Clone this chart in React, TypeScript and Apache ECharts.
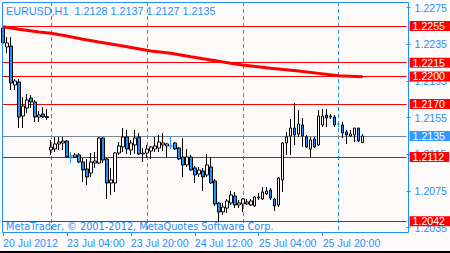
import React, { useEffect, useRef } from "react";
import * as echarts from "echarts";

// ---- categories (hourly bars, weekend skipped) ----
const days = ["20 Jul", "23 Jul", "24 Jul", "25 Jul", "26 Jul"];
const firstHour = 12;
const barCount = 102;
const categories: string[] = [];
{
  let d = 0;
  let h = firstHour;
  while (categories.length < barCount) {
    categories.push(`${days[d]} ${String(h).padStart(2, "0")}:00`);
    h++;
    if (h === 24) {
      h = 0;
      d++;
    }
  }
}
const firstLabel = "20 Jul 2012";
const xLabelIdx = [0, 16, 32, 48, 64, 80];
const dayGridIdx = [12, 36, 60, 84];

// ---- OHLC: [open, close, low, high] ----
const ohlc: number[][] = [
  [1.22528, 1.22365, 1.22354, 1.22615],
  [1.22321, 1.22365, 1.22255, 1.2243],
  [1.22332, 1.21928, 1.21852, 1.2243],
  [1.21906, 1.2195, 1.21852, 1.21972],
  [1.21939, 1.21557, 1.21437, 1.21972],
  [1.21568, 1.21677, 1.21437, 1.21775],
  [1.21655, 1.21743, 1.21601, 1.21808],
  [1.21764, 1.21721, 1.21655, 1.21797],
  [1.21721, 1.21557, 1.21503, 1.21743],
  [1.21557, 1.21579, 1.21503, 1.21623],
  [1.2159, 1.21557, 1.21546, 1.21666],
  [1.2156, 1.2155, 1.21524, 1.21644],
  [1.21197, 1.2123, 1.21143, 1.21306],
  [1.21208, 1.21263, 1.21175, 1.21339],
  [1.21263, 1.21284, 1.21197, 1.21339],
  [1.21274, 1.21295, 1.21197, 1.21339],
  [1.21295, 1.21121, 1.2111, 1.21306],
  [1.21132, 1.21132, 1.21055, 1.21175],
  [1.21121, 1.21143, 1.2111, 1.21164],
  [1.21143, 1.21066, 1.21055, 1.21164],
  [1.21066, 1.20979, 1.20848, 1.2111],
  [1.2099, 1.20903, 1.20815, 1.21099],
  [1.20946, 1.21066, 1.20903, 1.21164],
  [1.21055, 1.21077, 1.21001, 1.21175],
  [1.21055, 1.21328, 1.21044, 1.21339],
  [1.21328, 1.21088, 1.21055, 1.21339],
  [1.21099, 1.20837, 1.20663, 1.2111],
  [1.20837, 1.2087, 1.20706, 1.21001],
  [1.20837, 1.21164, 1.20739, 1.21175],
  [1.21164, 1.21241, 1.21143, 1.21284],
  [1.2123, 1.21339, 1.21175, 1.21437],
  [1.21339, 1.21208, 1.21154, 1.21415],
  [1.21197, 1.21274, 1.21143, 1.21306],
  [1.21252, 1.21328, 1.21154, 1.21415],
  [1.21339, 1.21154, 1.21143, 1.21383],
  [1.21154, 1.21164, 1.21066, 1.21219],
  [1.21164, 1.21208, 1.2111, 1.21252],
  [1.21186, 1.2123, 1.21099, 1.21241],
  [1.21208, 1.21241, 1.21175, 1.21339],
  [1.21219, 1.21284, 1.21175, 1.21361],
  [1.21252, 1.21274, 1.21186, 1.21383],
  [1.21241, 1.21263, 1.21121, 1.21274],
  [1.21241, 1.21241, 1.21208, 1.2135],
  [1.21274, 1.21208, 1.21197, 1.21284],
  [1.21219, 1.21099, 1.21088, 1.2123],
  [1.21121, 1.21034, 1.20903, 1.21328],
  [1.21034, 1.21121, 1.21012, 1.21208],
  [1.21121, 1.20979, 1.20968, 1.21143],
  [1.21001, 1.20924, 1.20837, 1.21023],
  [1.20935, 1.20979, 1.20903, 1.21012],
  [1.20968, 1.20903, 1.2075, 1.21001],
  [1.20924, 1.21034, 1.20903, 1.21154],
  [1.21012, 1.20837, 1.20826, 1.21121],
  [1.20859, 1.20608, 1.20586, 1.20881],
  [1.20619, 1.20521, 1.20412, 1.2063],
  [1.20521, 1.20575, 1.20488, 1.20619],
  [1.20564, 1.20641, 1.2051, 1.20663],
  [1.20619, 1.20706, 1.20597, 1.2075],
  [1.20695, 1.20597, 1.20564, 1.20739],
  [1.20597, 1.20619, 1.20564, 1.20652],
  [1.20608, 1.20663, 1.20521, 1.20673],
  [1.20608, 1.2063, 1.20597, 1.20663],
  [1.20597, 1.20641, 1.20586, 1.20663],
  [1.20586, 1.20684, 1.20575, 1.20695],
  [1.20673, 1.20684, 1.20652, 1.20728],
  [1.20663, 1.20739, 1.20652, 1.20793],
  [1.20717, 1.2075, 1.20706, 1.20793],
  [1.20761, 1.20673, 1.20652, 1.20783],
  [1.20663, 1.20586, 1.20532, 1.20673],
  [1.20597, 1.20892, 1.20575, 1.20903],
  [1.2087, 1.21274, 1.20739, 1.21284],
  [1.21274, 1.21339, 1.21143, 1.21394],
  [1.2135, 1.21437, 1.21143, 1.21535],
  [1.21437, 1.21361, 1.21252, 1.2171],
  [1.21372, 1.21481, 1.21339, 1.21633],
  [1.2147, 1.2135, 1.2123, 1.21546],
  [1.21339, 1.2123, 1.21219, 1.21361],
  [1.21208, 1.21306, 1.21121, 1.21339],
  [1.21317, 1.2123, 1.21219, 1.21339],
  [1.21252, 1.21568, 1.21241, 1.21633],
  [1.2147, 1.21568, 1.21448, 1.21644],
  [1.21579, 1.21546, 1.21448, 1.21644],
  [1.21557, 1.21568, 1.21535, 1.2159],
  [1.21557, 1.2147, 1.21448, 1.21579],
  [1.21481, 1.21481, 1.21448, 1.21514],
  [1.2147, 1.21383, 1.21328, 1.21503],
  [1.21394, 1.21361, 1.21263, 1.21415],
  [1.2135, 1.21372, 1.21339, 1.21415],
  [1.21361, 1.21437, 1.21284, 1.21437],
  [1.21437, 1.21295, 1.21284, 1.21437],
  [1.2128, 1.2135, 1.2127, 1.2137],
];
const blueDojiIdx = [17, 42, 84];

// ---- moving average, read at a few bars ----
const maIdx = [0, 4, 9, 12, 16, 20, 24, 30, 37, 42, 47, 52, 57, 60, 67, 74, 79, 84, 90];
const maVal = [
  1.22542, 1.22514, 1.22484, 1.2247, 1.22441, 1.22405, 1.22375, 1.22332, 1.22277, 1.22252,
  1.22215, 1.22179, 1.22143, 1.22124, 1.22088, 1.22058, 1.22033, 1.22007, 1.21996,
];

// ---- horizontal levels ----
const redLevels = [1.2255, 1.2215, 1.22, 1.217, 1.2112, 1.2042];
const bidLevel = 1.2135;

// ---- price axis ----
const yTicks = [1.2035, 1.2075, 1.2115, 1.2155, 1.2195, 1.2235, 1.2275];
const Y_MIN = 1.203023;
const Y_MAX = 1.228119;

const titleText = "EURUSD,H1  1.2128 1.2137 1.2127 1.2135";
const footerText = "MetaTrader, © 2001-2012, MetaQuotes Software Corp.";

const BLUE = "#1E90FF";
const RED = "#FF0000";
const AX_FONT = "'Liberation Sans Narrow', 'Liberation Sans', Arial, sans-serif";
const AX_SIZE = 10.6;
const FOOT_FONT = "'DejaVu Sans', sans-serif";

export default function App() {
  const ref = useRef<HTMLDivElement>(null);
  useEffect(() => {
    const chart = echarts.init(ref.current!, null, { renderer: "svg" });
    const candleData = ohlc.map((c, i) =>
      blueDojiIdx.includes(i)
        ? {
            value: c,
            itemStyle: {
              color: BLUE,
              color0: BLUE,
              borderColor: BLUE,
              borderColor0: BLUE,
              borderColorDoji: BLUE,
            },
          }
        : c
    );
    const maData: (number | null)[] = ohlc.map(() => null);
    maIdx.forEach((idx, k) => {
      maData[idx] = maVal[k];
    });
    const levelLabel = (v: number, bg: string) => ({
      show: true,
      position: "end",
      distance: 3,
      formatter: v.toFixed(4),
      color: "#FFFFFF",
      backgroundColor: bg,
      padding: [1, 5, 0, 3],
      lineHeight: 9,
      fontFamily: AX_FONT,
      fontSize: AX_SIZE,
    });
    const levelLines = [
      ...redLevels.map((v) => ({
        yAxis: v,
        lineStyle: { color: RED, width: 1, type: "solid" },
        label: levelLabel(v, RED),
      })),
      {
        yAxis: bidLevel,
        lineStyle: { color: "#778899", width: 1, type: "solid" },
        label: levelLabel(bidLevel, "#3399FF"),
      },
    ];
    chart.setOption({
      animation: false,
      backgroundColor: "#FFFAFA",
      grid: { left: 3, top: 2, width: 404, height: 230, show: false },
      xAxis: {
        type: "category",
        data: categories,
        boundaryGap: false,
        axisLine: { show: false },
        axisTick: {
          show: true,
          interval: (i: number) => xLabelIdx.includes(i),
          length: 4,
          lineStyle: { color: BLUE },
        },
        axisLabel: {
          interval: (i: number) => xLabelIdx.includes(i),
          formatter: (v: string, i: number) => (i === 0 ? firstLabel : v),
          align: "left",
          margin: 5,
          color: BLUE,
          fontFamily: AX_FONT,
          fontSize: AX_SIZE,
        },
        splitLine: {
          show: true,
          interval: (i: number) => dayGridIdx.includes(i),
          lineStyle: { color: BLUE, type: [4, 3], width: 1 },
        },
      },
      yAxis: {
        type: "value",
        position: "right",
        min: Y_MIN,
        max: Y_MAX,
        axisLine: { show: false },
        splitLine: { show: false },
        axisTick: {
          show: true,
          customValues: yTicks,
          length: 4,
          lineStyle: { color: BLUE },
        },
        axisLabel: {
          customValues: yTicks,
          formatter: (v: number) => v.toFixed(4),
          color: BLUE,
          fontFamily: AX_FONT,
          fontSize: AX_SIZE,
          margin: 8,
        },
      },
      graphic: [
        {
          type: "rect",
          z: 100,
          shape: { x: 2.5, y: 2.5, width: 406, height: 230 },
          style: { fill: "none", stroke: BLUE, lineWidth: 1 },
          silent: true,
        },
        {
          type: "rect",
          z: 100,
          shape: { x: 0, y: 251, width: 450, height: 2 },
          style: { fill: "#000000" },
          silent: true,
        },
        {
          type: "text",
          z: 100,
          x: 6,
          y: 11,
          style: {
            text: titleText,
            fill: BLUE,
            fontFamily: AX_FONT,
            fontSize: 10.8,
            verticalAlign: "middle",
            align: "left",
          },
          silent: true,
        },
        {
          type: "text",
          z: 100,
          x: 6,
          y: 226.5,
          style: {
            text: footerText,
            fill: BLUE,
            fontFamily: FOOT_FONT,
            fontSize: 9.75,
            verticalAlign: "middle",
            align: "left",
          },
          silent: true,
        },
      ],
      series: [
        {
          type: "candlestick",
          data: candleData,
          barWidth: 3,
          clip: false,
          z: 3,
          itemStyle: {
            color: "#FFFFFF",
            color0: BLUE,
            borderColor: "#000000",
            borderColor0: "#000000",
            borderColorDoji: "#000000",
            borderWidth: 1,
          },
        },
        {
          type: "line",
          data: maData,
          connectNulls: true,
          showSymbol: false,
          symbol: "none",
          z: 4,
          lineStyle: { color: RED, width: 3 },
          markLine: {
            silent: true,
            symbol: ["none", "none"],
            animation: false,
            precision: 5,
            z: 2,
            data: levelLines,
          },
        },
      ],
    });
    return () => chart.dispose();
  }, []);
  return (
    <div
      ref={ref}
      style={{ position: "absolute", left: 0, top: 0, width: 450, height: 253 }}
    />
  );
}
